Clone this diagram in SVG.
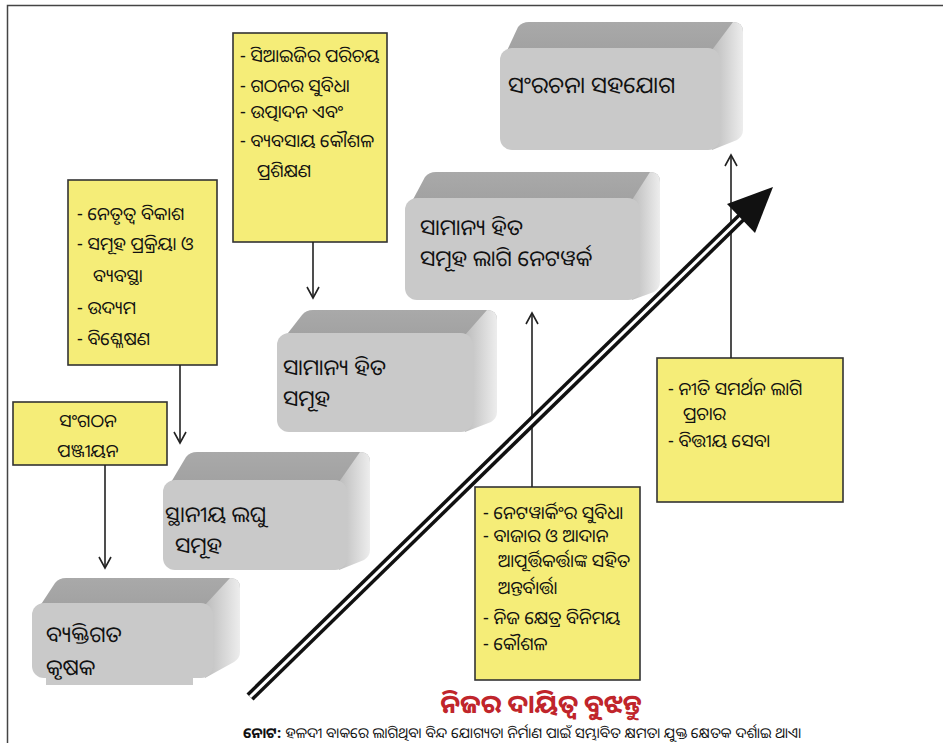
<svg xmlns="http://www.w3.org/2000/svg" width="943" height="743" viewBox="0 0 943 743">
<defs>
<linearGradient id="side" x1="0" y1="0" x2="1" y2="0"><stop offset="0" stop-color="#bcbcbc"/><stop offset="1" stop-color="#ededed"/></linearGradient>
<linearGradient id="top" x1="0" y1="0" x2="0" y2="1"><stop offset="0" stop-color="#a9a9a9"/><stop offset="1" stop-color="#a0a0a0"/></linearGradient>
<marker id="ah" markerWidth="14" markerHeight="14" refX="12" refY="7" orient="auto" markerUnits="userSpaceOnUse"><path d="M1,1 L12,7 L1,13" fill="none" stroke="#222" stroke-width="1.6"/></marker>
<style>
text{font-family:'Noto Sans Oriya','Lohit Odia','Noto Sans','DejaVu Sans',sans-serif;fill:#111}
.y{fill:#f5ed78;stroke:#333;stroke-width:1.6}
.yt{font-size:18px}
.bt{font-size:22px}
.front{fill:#c9c9c9}
.topf{fill:url(#top)}
.sidef{fill:url(#side)}
.conn{stroke:#222;stroke-width:1.6;fill:none;marker-end:url(#ah)}
</style>
</defs>
<rect width="943" height="743" fill="#fff"/>
<path d="M7.5,743 V5.5 H943" fill="none" stroke="#444" stroke-width="1.5"/>

<g id="block-vyaktigata">
<path class="topf" d="M36,612 L55,583 Q59,578 66,578 L230,578 Q240,578 240,588 L213,612 Z"/>
<path class="sidef" d="M205,605 L230,578 Q240,578 240,588 L240,652 Q240,658 234,662 L205,678 Z"/>
<rect class="front" x="32" y="603" width="181" height="75" rx="12"/>
<rect class="front" x="46" y="615" width="147" height="70"/>
<text class="bt" x="46" y="642">ବ୍ୟକ୍ତିଗତ</text>
<text class="bt" x="46" y="675">କୃଷକ</text>
</g>

<g id="block-sthaniya">
<path class="topf" d="M167,489 L186,457 Q190,452 197,452 L360,452 Q370,452 370,462 L347,489 Z"/>
<path class="sidef" d="M339,482 L360,452 Q370,452 370,462 L370,550 Q370,556 364,560 L339,570 Z"/>
<rect class="front" x="163" y="480" width="184" height="90" rx="12"/>
<text class="bt" x="165" y="522">ସ୍ଥାନୀୟ ଲଘୁ</text>
<text class="bt" x="175" y="553">ସମୂହ</text>
</g>

<g id="block-samanya">
<path class="topf" d="M281,342 L302,315 Q306,310 313,310 L487,310 Q497,310 497,320 L473,342 Z"/>
<path class="sidef" d="M465,335 L487,310 Q497,310 497,320 L497,412 Q497,418 491,422 L465,432 Z"/>
<rect class="front" x="277" y="333" width="196" height="99" rx="12"/>
<text class="bt" x="283" y="375">ସାମାନ୍ୟ ହିତ</text>
<text class="bt" x="283" y="406">ସମୂହ</text>
</g>

<g id="block-network">
<path class="topf" d="M409,207 L425,177 Q429,172 436,172 L650,172 Q660,172 660,182 L640,207 Z"/>
<path class="sidef" d="M632,200 L650,172 Q660,172 660,182 L660,282 Q660,288 654,292 L632,300 Z"/>
<rect class="front" x="405" y="198" width="235" height="102" rx="12"/>
<text class="bt" x="420" y="235">ସାମାନ୍ୟ ହିତ</text>
<text class="bt" x="420" y="266">ସମୂହ ଲାଗି ନେଟୱର୍କ</text>
</g>

<g id="block-sanrachana">
<path class="topf" d="M504,57 L518,27 Q522,22 529,22 L733,22 Q743,22 743,32 L720,57 Z"/>
<path class="sidef" d="M712,50 L733,22 Q743,22 743,32 L743,130 Q743,136 737,140 L712,150 Z"/>
<rect class="front" x="500" y="48" width="220" height="102" rx="12"/>
<text class="bt" x="508" y="93" style="font-size:23px">ସଂରଚନା ସହଯୋଗ</text>
</g>

<g id="note-training">
<rect class="y" x="233" y="33" width="154" height="209"/>
<text class="yt" x="240" y="62">- ସିଆଇଜିର ପରିଚୟ</text>
<text class="yt" x="240" y="92">- ଗଠନର ସୁବିଧା</text>
<text class="yt" x="240" y="118">- ଉତ୍ପାଦନ ଏବଂ</text>
<text class="yt" x="240" y="147">- ବ୍ୟବସାୟ କୌଶଳ</text>
<text class="yt" x="257" y="177">ପ୍ରଶିକ୍ଷଣ</text>
</g>

<g id="note-leadership">
<rect class="y" x="68" y="180" width="149" height="185"/>
<text class="yt" x="77" y="220">- ନେତୃତ୍ୱ ବିକାଶ</text>
<text class="yt" x="77" y="250">- ସମୂହ ପ୍ରକ୍ରିୟା ଓ</text>
<text class="yt" x="93" y="282">ବ୍ୟବସ୍ଥା</text>
<text class="yt" x="77" y="314">- ଉଦ୍ୟମ</text>
<text class="yt" x="77" y="345">- ବିଶ୍ଳେଷଣ</text>
</g>

<g id="note-registration">
<rect class="y" x="13" y="402" width="154" height="63"/>
<text class="yt" x="88" y="427" text-anchor="middle">ସଂଗଠନ</text>
<text class="yt" x="88" y="457" text-anchor="middle">ପଞ୍ଜୀୟନ</text>
</g>

<g id="note-networking">
<rect class="y" x="475" y="487" width="165" height="193"/>
<text class="yt" x="483" y="519">- ନେଟୱାର୍କିଂର ସୁବିଧା</text>
<text class="yt" x="483" y="542">- ବାଜାର ଓ ଆଦାନ</text>
<text class="yt" x="498" y="567">ଆପୂର୍ତ୍ତିକର୍ତ୍ତାଙ୍କ ସହିତ</text>
<text class="yt" x="498" y="594">ଅନ୍ତର୍ବାର୍ତ୍ତା</text>
<text class="yt" x="483" y="624">- ନିଜ କ୍ଷେତ୍ର ବିନିମୟ</text>
<text class="yt" x="483" y="650">- କୌଶଳ</text>
</g>

<g id="note-policy">
<rect class="y" x="657" y="358" width="186" height="144"/>
<text class="yt" x="668" y="395">- ନୀତି ସମର୍ଥନ ଲାଗି</text>
<text class="yt" x="683" y="420">ପ୍ରଚାର</text>
<text class="yt" x="668" y="447">- ବିତ୍ତୀୟ ସେବା</text>
</g>

<g id="connectors">
<line class="conn" x1="180" y1="365" x2="180" y2="443"/>
<line class="conn" x1="105" y1="465" x2="105" y2="568"/>
<line class="conn" x1="313" y1="242" x2="313" y2="298"/>
<line class="conn" x1="532" y1="487" x2="532" y2="313"/>
<line class="conn" x1="731" y1="358" x2="731" y2="155"/>
<g id="big-arrow">
<line x1="250" y1="697" x2="748" y2="211" stroke="#111" stroke-width="10"/>
<line x1="250" y1="697" x2="748" y2="211" stroke="#fff" stroke-width="3"/>
<polygon points="773,187 755,233 727,204" fill="#111"/>
</g>
</g>

<text x="541" y="713" text-anchor="middle" style="font-size:26px;font-weight:bold;fill:#c0252b">ନିଜର ଦାୟିତ୍ୱ ବୁଝନ୍ତୁ</text>
<text x="243" y="738" style="font-size:14.5px"><tspan style="font-weight:bold">ନୋଟ:</tspan> ହଳଦୀ ବାକରେ ଲାଗିଥିବା ବିନ୍ଦ ଯୋଗ୍ୟତା ନିର୍ମାଣ ପାଇଁ ସମ୍ଭାବିତ କ୍ଷମତା ଯୁକ୍ତ କ୍ଷେତକ ଦର୍ଶାଇ ଥାଏ।</text>
</svg>
